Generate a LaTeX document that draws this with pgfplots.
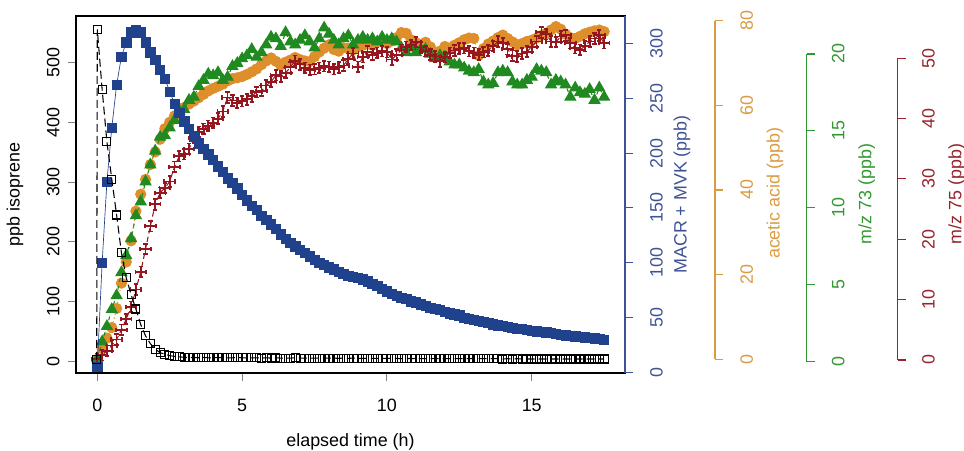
\documentclass[border=0pt]{standalone}
\usepackage{fontspec}
\setmainfont{Liberation Sans}
\usepackage{pgfplots}
\pgfplotsset{compat=1.18}
\usepackage{pgfplotstable}

\definecolor{macrblue}{RGB}{32,66,140}
\definecolor{macraxis}{RGB}{62,82,150}
\definecolor{aceorange}{RGB}{222,142,42}
\definecolor{aceaxis}{RGB}{218,155,65}
\definecolor{mgreen}{RGB}{32,138,32}
\definecolor{gaxis}{RGB}{50,152,50}
\definecolor{mred}{RGB}{150,22,32}
\definecolor{raxis}{RGB}{150,35,45}

% plus sign with short bars on its ends
\pgfdeclareplotmark{tcross}{%
  \pgfpathmoveto{\pgfqpoint{-\pgfplotmarksize}{0pt}}%
  \pgfpathlineto{\pgfqpoint{\pgfplotmarksize}{0pt}}%
  \pgfpathmoveto{\pgfqpoint{0pt}{-\pgfplotmarksize}}%
  \pgfpathlineto{\pgfqpoint{0pt}{\pgfplotmarksize}}%
  \pgfpathmoveto{\pgfqpoint{-\pgfplotmarksize}{-0.4\pgfplotmarksize}}%
  \pgfpathlineto{\pgfqpoint{-\pgfplotmarksize}{0.4\pgfplotmarksize}}%
  \pgfpathmoveto{\pgfqpoint{\pgfplotmarksize}{-0.4\pgfplotmarksize}}%
  \pgfpathlineto{\pgfqpoint{\pgfplotmarksize}{0.4\pgfplotmarksize}}%
  \pgfpathmoveto{\pgfqpoint{-0.4\pgfplotmarksize}{-\pgfplotmarksize}}%
  \pgfpathlineto{\pgfqpoint{0.4\pgfplotmarksize}{-\pgfplotmarksize}}%
  \pgfpathmoveto{\pgfqpoint{-0.4\pgfplotmarksize}{\pgfplotmarksize}}%
  \pgfpathlineto{\pgfqpoint{0.4\pgfplotmarksize}{\pgfplotmarksize}}%
  \pgfusepathqstroke
}

% t [h], isoprene, MACR+MVK, acetic acid, m/z 73, m/z 75 (all ppb)
\pgfplotstableread{
t iso macr ac m73 m75
-0.02 3 nan nan nan nan
0 555 5 0 0.2 0.2
0.167 455 100 2.5 1.3 0.8
0.333 367 174 5 2.3 1.5
0.5 305 223 7.5 3.4 2.4
0.667 245 262 12 4.3 3.4
0.833 182 288 18 5.8 5.0
1.0 140 301 23 6.9 6.8
1.167 112 310 28 8.0 8.8
1.333 88 312 35 9.5 11.7
1.5 62 310 39 10.4 14.6
1.667 43 301 42.5 11.7 18.4
1.833 30 292 46 12.8 22.2
2.0 21 285 49 13.7 25.8
2.167 15 276 52 14.6 27.7
2.333 12.5 268 54.5 14.7 28.5
2.5 10 256 56 15.2 29.6
2.667 9 245 57.5 15.7 32.0
2.833 8 237 58.5 16.3 33.8
3.0 7.5 229 59.5 16.4 34.1
3.167 7 222 60.3 17.0 35.0
3.333 7 215 61 17.2 36.8
3.5 6.5 209 61.8 17.9 37.8
3.667 7 204 62.6 18.3 38.3
3.833 6.5 199 63.4 18.7 38.8
4.0 6.5 194 64 18.6 39.3
4.167 7 188 64.5 18.8 40.0
4.333 6.5 183 65 18.3 41.2
4.5 6.5 177 65.8 18.5 43.5
4.667 6.5 173 66.3 19.2 43.0
4.833 7 168 66.5 19.4 42.6
5.0 6.5 162 66.8 19.7 42.9
5.167 6.5 157 67.3 19.9 43.2
5.333 6.5 152 67.9 20.3 43.7
5.5 6.5 148 68.6 19.8 44.4
5.667 6 143 69.6 20.1 44.6
5.833 6.5 139 70.5 20.6 45.5
6.0 6 135 71.2 21.1 46.1
6.167 6.5 131 70.4 21.0 47.2
6.333 6 126 69.5 20.5 47.0
6.5 6 122 70.2 21.4 47.6
6.667 6 118 70.7 20.8 48.5
6.833 6.5 115 71.3 20.6 49.6
7.0 6 112 70.8 20.9 49.0
7.167 6 109 70.5 21.2 48.4
7.333 6 106 70.3 20.8 48.1
7.5 6 103 71.5 20.4 48.2
7.667 6 100 72.6 21.0 48.4
7.833 6 98 73.5 21.7 48.7
8.0 6 96 74.3 21.3 48.6
8.167 6 94 73.2 20.9 48.2
8.333 5.5 92 72.8 20.6 48.5
8.5 6 90 73.6 21.0 48.8
8.667 5.5 88 73.5 21.2 49.9
8.833 6 87 73.1 20.6 50.8
9.0 5.5 86 73.8 20.9 48.6
9.167 5.5 85 74.2 21.1 50.2
9.333 5.5 83 74.5 20.9 51.1
9.5 5.5 81 74.2 21.0 50.6
9.667 5.5 79 75.0 20.8 50.9
9.833 5.5 76 75.4 21.1 51.2
10.0 5.5 74 74.6 20.9 51.0
10.167 5.5 72 75.2 21.0 49.8
10.333 5.5 70 76.0 20.8 50.6
10.5 5 68 77.2 20.4 51.4
10.667 5.5 67 77.0 20.1 51.9
10.833 5 65 75.5 20.4 52.2
11.0 5.5 64 74.8 20.1 52.7
11.167 5 62 74.3 20.3 51.8
11.333 5 61 74.9 20.3 51.2
11.5 5.5 59 73.8 20.0 50.6
11.667 5 58 72.5 19.7 50.3
11.833 5 57 72.8 19.9 49.5
12.0 5 55 73.9 19.8 50.2
12.167 5 54 73.5 19.5 50.9
12.333 5 53 74.2 19.3 51.3
12.5 5 52 74.8 19.3 51.6
12.667 5 50 75.5 19.1 51.7
12.833 5 49 75.9 18.9 51.2
13.0 5 48 75.8 18.8 50.9
13.167 5 47 71.8 19.0 50.6
13.333 5 46 73.4 18.2 51.0
13.5 5 45 74.5 18.0 51.3
13.667 5 44 75.2 18.1 52.0
13.833 5 43 76.0 18.8 52.8
14.0 4.5 42.5 76.6 18.9 52.5
14.167 5 41.5 75.8 18.8 51.5
14.333 4.5 41 75.0 18.2 50.4
14.5 5 40 74.3 18.0 50.3
14.667 4.5 39.5 74.6 18.0 50.8
14.833 4.5 39 75.1 18.3 51.1
15.0 4.5 38 75.4 18.5 51.9
15.167 4.5 37.5 75.9 19.0 52.8
15.333 4.5 37 76.5 18.9 54.3
15.5 4.5 36.5 77.0 18.8 54.0
15.667 4.5 36 77.8 18.0 52.8
15.833 4.5 35 78.6 18.3 52.7
16.0 4.5 34.5 78.0 18.2 53.6
16.167 4.5 34 76.8 18.0 53.8
16.333 4.5 33.5 76.0 17.2 52.5
16.5 4.5 33 75.8 17.8 51.7
16.667 4.5 32.5 76.3 17.5 51.4
16.833 4.5 32 76.9 17.4 52.0
17.0 4.5 31.5 77.3 17.7 52.8
17.167 4.5 31 77.6 17.0 53.3
17.333 4.5 30.5 77.8 17.8 53.8
17.5 4.5 30 77.4 17.2 52.5
}\tbl

\pgfplotsset{
  every axis/.append style={font=\fontsize{13.4}{16}\selectfont,
    /pgf/number format/assume math mode=true},
  frame/.style={scale only axis, width=411.75pt, height=267.75pt,
    anchor=south west, at={(57pt,57.75pt)}, xmin=-0.735, xmax=18.22},
  hidden/.style={frame, hide axis},
  side/.style={scale only axis, width=1pt, anchor=south west,
    xmin=0, xmax=1, axis x line=none, axis y line*=right,
    tick align=outside, major tick length=6pt,
    y axis line style={#1, line width=0.8pt},
    ytick style={#1, line width=0.8pt},
    yticklabel style={#1, rotate=90, anchor=center},
    ylabel style={#1, anchor=center}},
}

\begin{document}
\begin{tikzpicture}
\useasboundingbox (0,0) rectangle (723pt,337.5pt);

% frame with the isoprene axis
\begin{axis}[frame, ymin=-18.9, ymax=577.3,
  xtick={0,5,10,15}, ytick={0,100,...,500},
  tick align=outside, tick pos=left, major tick length=6pt,
  axis line style={line width=0.9pt}, tick style={line width=0.8pt},
  yticklabel style={rotate=90, anchor=center}, yticklabel shift=11pt,
  xticklabel style={anchor=center}, xticklabel shift=18pt,
  xlabel={elapsed time (h)}, ylabel={ppb isoprene},
  xlabel style={at={(axis description cs:0.5,-0.193)}, anchor=center},
  ylabel style={at={(axis description cs:-0.111,0.5)}, anchor=center}]
\end{axis}

% acetic acid
\begin{axis}[hidden, ymin=-3.237, ymax=81.11]
\addplot [aceorange, line width=0.8pt, dash pattern=on 1pt off 2pt,
  mark=*, mark size=3.8pt, mark options={solid, fill=aceorange, draw=aceorange}]
  table [x=t, y=ac] {\tbl};
\end{axis}

% m/z 73
\begin{axis}[hidden, ymin=-0.734, ymax=22.47]
\addplot [mgreen, line width=0.8pt, dash pattern=on 3pt off 3pt,
  mark=triangle*, mark size=4.6pt, mark options={solid, fill=mgreen, draw=mgreen}]
  table [x=t, y=m73] {\tbl};
\end{axis}

% m/z 75
\begin{axis}[hidden, ymin=-2.154, ymax=57.01]
\addplot [mred, line width=0.8pt, dash pattern=on 4pt off 2.5pt,
  mark=tcross, mark size=4pt, mark options={solid, line width=1.3pt}]
  table [x=t, y=m75] {\tbl};
\end{axis}

% MACR + MVK, right axis of the frame
\begin{axis}[frame, ymin=-0.46, ymax=325,
  axis x line=none, axis y line*=right,
  ytick={0,50,...,300}, tick align=outside, major tick length=6pt,
  y axis line style={macraxis, line width=0.9pt},
  ytick style={macraxis, line width=0.8pt},
  yticklabel style={macraxis, rotate=90, anchor=center}, yticklabel shift=17.6pt,
  ylabel={MACR + MVK (ppb)},
  ylabel style={macraxis, at={(axis description cs:1.1038,0.5)}, anchor=center}]
\addplot [macrblue, line width=0.5pt, mark=square*, mark size=3.5pt,
  mark options={fill=macrblue, draw=macrblue}]
  table [x=t, y=macr] {\tbl};
\end{axis}

% isoprene data on top
\begin{axis}[hidden, ymin=-18.9, ymax=577.3]
\addplot [black, line width=0.8pt, dash pattern=on 6pt off 3pt,
  mark=square, mark size=3pt, mark options={solid, fill=none, line width=0.8pt}]
  table [x=t, y=iso] {\tbl};
\end{axis}

% separate scales
\begin{axis}[side=aceaxis, at={(535.25pt,68.03pt)}, height=253.95pt,
  ymin=0, ymax=80, ytick={0,20,...,80}, yticklabel shift=17.8pt,
  ylabel={acetic acid (ppb)},
  ylabel style={at={(axis description cs:46,0.49)}}]
\end{axis}

\begin{axis}[side=gaxis, at={(604pt,66.23pt)}, height=230.78pt,
  ymin=0, ymax=20, ytick={0,5,...,20}, yticklabel shift=17.7pt,
  ylabel={m/z 73 (ppb)},
  ylabel style={at={(axis description cs:46,0.545)}}]
\end{axis}

\begin{axis}[side=raxis, at={(672.3pt,67.5pt)}, height=226.3pt,
  ymin=0, ymax=50, ytick={0,10,...,50}, yticklabel shift=17pt,
  ylabel={m/z 75 (ppb)},
  ylabel style={at={(axis description cs:45.25,0.55)}}]
\end{axis}

\end{tikzpicture}
\end{document}
